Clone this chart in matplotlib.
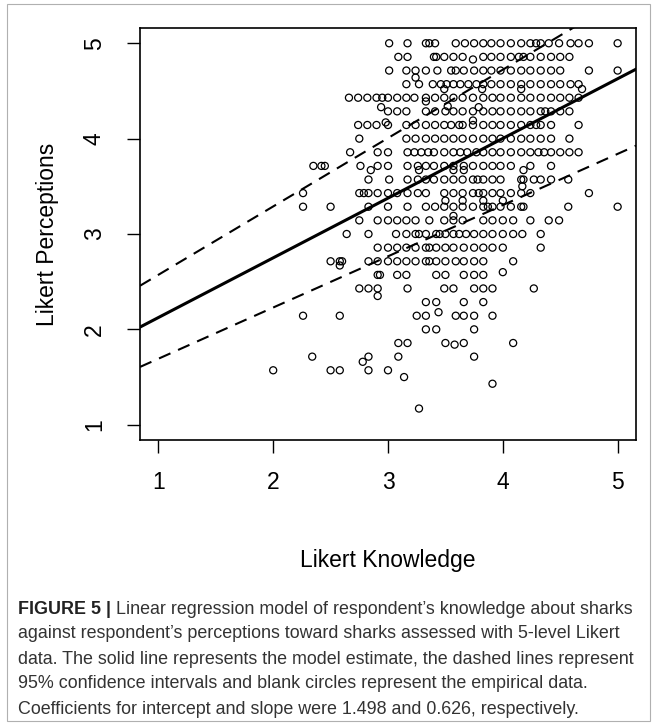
import numpy as np
import matplotlib.pyplot as plt
from matplotlib.patches import Rectangle

plt.rcParams['font.family'] = ['Liberation Sans', 'DejaVu Sans']

# empirical data, read row by row (y = Likert perception level)
r5_000 = [3.01, 3.17, 3.33, 3.36, 3.41, 3.59, 3.67, 3.75, 3.83, 3.9, 3.98, 4.07, 4.16, 4.24, 4.29, 4.33, 4.4, 4.49, 4.59, 4.66, 4.75, 5.0]
r4_857 = [3.09, 3.17, 3.4, 3.42, 3.49, 3.57, 3.65, 3.83, 3.9, 3.98, 4.07, 4.14, 4.18, 4.24, 4.33, 4.42, 4.5, 4.58]
r4_714 = [3.01, 3.16, 3.24, 3.33, 3.43, 3.55, 3.59, 3.66, 3.75, 3.83, 3.9, 3.98, 4.07, 4.16, 4.24, 4.33, 4.42, 4.5, 4.75, 5.0]
r4_571 = [3.16, 3.27, 3.39, 3.46, 3.51, 3.57, 3.63, 3.7, 3.77, 3.83, 3.9, 3.98, 4.07, 4.16, 4.24, 4.33, 4.42, 4.5, 4.59, 4.66]
r4_429 = [2.66, 2.74, 2.82, 2.9, 2.95, 3.0, 3.08, 3.16, 3.23, 3.33, 3.41, 3.49, 3.57, 3.65, 3.74, 3.83, 3.91, 3.98, 4.07, 4.16, 4.24, 4.33, 4.42, 4.5, 4.58, 4.66]
r4_286 = [3.0, 3.08, 3.16, 3.33, 3.41, 3.5, 3.57, 3.65, 3.74, 3.83, 3.91, 3.98, 4.07, 4.16, 4.24, 4.33, 4.37, 4.42, 4.5, 4.58]
r4_143 = [2.74, 2.82, 2.9, 3.0, 3.16, 3.24, 3.33, 3.41, 3.49, 3.55, 3.62, 3.65, 3.74, 3.83, 3.91, 3.98, 4.07, 4.16, 4.24, 4.29, 4.33, 4.42, 4.66]
r4_000 = [2.75, 3.16, 3.24, 3.33, 3.41, 3.49, 3.57, 3.65, 3.74, 3.83, 3.91, 3.98, 4.07, 4.16, 4.24, 4.33, 4.42, 4.58]
r3_857 = [2.67, 2.91, 3.0, 3.17, 3.23, 3.29, 3.35, 3.4, 3.49, 3.57, 3.63, 3.69, 3.77, 3.83, 3.91, 3.98, 4.07, 4.16, 4.24, 4.31, 4.36, 4.42, 4.5, 4.58, 4.66]
r3_714 = [2.35, 2.42, 2.45, 2.76, 2.91, 3.0, 3.17, 3.26, 3.33, 3.4, 3.49, 3.57, 3.66, 3.74, 3.83, 3.91, 3.98, 4.07, 4.24, 4.42]
r3_571 = [2.83, 3.01, 3.17, 3.26, 3.33, 3.4, 3.49, 3.57, 3.65, 3.74, 3.78, 3.83, 3.91, 3.98, 4.16, 4.18, 4.27, 4.33, 4.42, 4.57]
r3_429 = [2.26, 2.75, 2.79, 2.83, 2.91, 3.0, 3.08, 3.17, 3.26, 3.33, 3.49, 3.57, 3.65, 3.74, 3.79, 3.83, 3.91, 3.98, 4.07, 4.16, 4.24, 4.75]
r3_286 = [2.26, 2.5, 2.83, 3.0, 3.17, 3.33, 3.41, 3.49, 3.57, 3.65, 3.74, 3.83, 3.87, 3.91, 3.98, 4.07, 4.16, 4.18, 4.57, 5.0]
r3_143 = [2.75, 2.91, 3.0, 3.08, 3.16, 3.24, 3.36, 3.49, 3.57, 3.65, 3.83, 3.91, 4.0, 4.09, 4.24, 4.4, 4.49]
r3_000 = [2.64, 2.83, 3.07, 3.16, 3.24, 3.27, 3.33, 3.42, 3.45, 3.5, 3.57, 3.62, 3.68, 3.75, 3.83, 3.91, 4.0, 4.09, 4.17, 4.33]
r2_857 = [2.91, 3.0, 3.08, 3.16, 3.24, 3.33, 3.36, 3.42, 3.5, 3.57, 3.66, 3.75, 3.83, 3.91, 4.0, 4.33]
r2_714 = [2.5, 2.58, 2.6, 2.83, 2.91, 3.0, 3.08, 3.16, 3.24, 3.33, 3.36, 3.42, 3.5, 3.59, 3.66, 3.75, 3.83, 4.09]
r2_571 = [2.91, 2.93, 3.08, 3.16, 3.42, 3.5, 3.66, 3.75, 3.83]
r2_429 = [2.75, 2.83, 2.91, 3.17, 3.49, 3.57, 3.75, 3.83, 3.91, 4.27]
r2_286 = [3.33, 3.42, 3.66, 3.83]
r2_143 = [2.26, 2.58, 3.25, 3.33, 3.59, 3.66, 3.75, 3.91]
r2_000 = [3.33, 3.42, 3.75]
r1_857 = [3.09, 3.17, 3.5, 3.66, 4.09]
r1_714 = [2.34, 2.83, 3.09, 3.75]
r1_571 = [2.0, 2.5, 2.58, 2.83, 3.0]

rows = [(5.0, r5_000), (4.857, r4_857), (4.714, r4_714), (4.571, r4_571),
        (4.429, r4_429), (4.286, r4_286), (4.143, r4_143), (4.0, r4_000),
        (3.857, r3_857), (3.714, r3_714), (3.571, r3_571), (3.429, r3_429),
        (3.286, r3_286), (3.143, r3_143), (3.0, r3_000), (2.857, r2_857),
        (2.714, r2_714), (2.571, r2_571), (2.429, r2_429), (2.286, r2_286),
        (2.143, r2_143), (2.0, r2_000), (1.857, r1_857), (1.714, r1_714),
        (1.571, r1_571)]

# points that sit between the rows
extra_x = [3.74, 3.24, 3.49, 3.82, 4.16, 4.69, 2.94, 3.33, 3.52, 3.79, 2.98, 3.74,
           2.85, 3.27, 3.57, 3.66, 4.18, 4.17, 3.5, 3.65, 3.83, 4.0, 3.57, 2.58,
           4.0, 2.91, 3.44, 3.58, 2.78, 3.14, 3.91, 3.27]
extra_y = [4.83, 4.64, 4.52, 4.52, 4.52, 4.52, 4.33, 4.39, 4.34, 4.33, 4.17, 4.19,
           3.67, 3.67, 3.67, 3.67, 3.67, 3.5, 3.35, 3.35, 3.35, 3.35, 3.19, 2.67,
           2.6, 2.35, 2.18, 1.84, 1.66, 1.5, 1.43, 1.17]

# model estimate and 95% CI bounds
intercept = 1.498
slope = 0.626
intercept_ci = (1.155, 1.855)
slope_ci = (0.537, 0.717)

xs = np.concatenate([r for _, r in rows] + [extra_x])
ys = np.concatenate([[y] * len(r) for y, r in rows] + [extra_y])

W, H = 657, 724
fig = plt.figure(figsize=(W / 100, H / 100), dpi=100)
ax = fig.add_axes([140 / W, 1 - 440 / H, 496 / W, 412 / H])

ax.scatter(xs, ys, s=26, facecolors='none', edgecolors='black', linewidths=0.9, zorder=3)

xl = np.array([0.84, 5.16])
ax.plot(xl, intercept + slope * xl, color='black', lw=2.2)
ax.plot(xl, intercept_ci[1] + slope_ci[1] * xl, color='black', lw=1.5, linestyle=(0, (6, 4)))
ax.plot(xl, intercept_ci[0] + slope_ci[0] * xl, color='black', lw=1.5, linestyle=(0, (6, 4)))

ax.set_xlim(0.84, 5.16)
ax.set_ylim(0.84, 5.16)
ax.set_xticks([1, 2, 3, 4, 5])
ax.set_yticks([1, 2, 3, 4, 5])
ax.tick_params(direction='out', length=9.5, width=1, labelsize=16.5)
ax.tick_params(axis='x', pad=13)
ax.tick_params(axis='y', pad=15, labelrotation=90)
for lab in ax.get_yticklabels():
    lab.set_va('center')
for sp in ax.spines.values():
    sp.set_linewidth(1.2)

fig.text(388 / W, 1 - 561 / H, 'Likert Knowledge', fontsize=16.5, ha='center', va='center')
fig.text(48 / W, 1 - 234 / H, 'Likert Perceptions', fontsize=16.5, ha='center', va='center', rotation=90)

# caption
cap_lines = ["against respondent\u2019s perceptions toward sharks assessed with 5-level Likert",
             "data. The solid line represents the model estimate, the dashed lines represent",
             "95% confidence intervals and blank circles represent the empirical data.",
             "Coefficients for intercept and slope were 1.498 and 0.626, respectively."]
cap_size = 12.9
cap_x = 18 / W
bold = fig.text(cap_x, 1 - 609 / H, 'FIGURE 5 | ', fontsize=cap_size, fontweight='bold',
                ha='left', va='center', color='#222222')
fig.canvas.draw()
bb = bold.get_window_extent(fig.canvas.get_renderer())
fig.text(bb.x1 / W, 1 - 609 / H, "Linear regression model of respondent\u2019s knowledge about sharks",
         fontsize=cap_size, ha='left', va='center', color='#333333')
for i, line in enumerate(cap_lines):
    fig.text(cap_x, 1 - (634 + 25 * i) / H, line, fontsize=cap_size, ha='left', va='center', color='#333333')

fig.patches.append(Rectangle((7 / W, 3 / H), 643 / W, 717 / H, transform=fig.transFigure,
                             fill=False, edgecolor='#b0b0b0', lw=0.8))

fig.savefig('out.png', dpi=100)
